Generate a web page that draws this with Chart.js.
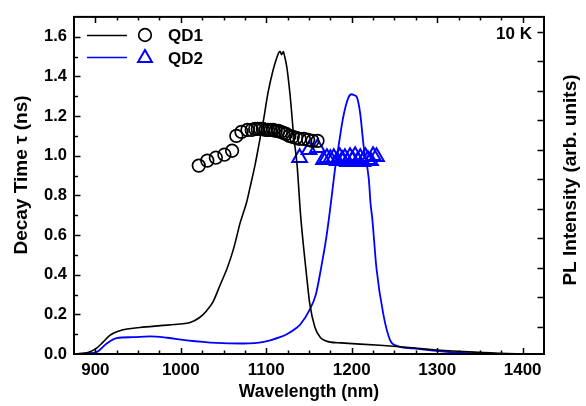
<!DOCTYPE html>
<html>
<head>
<meta charset="utf-8">
<script src="https://cdn.jsdelivr.net/npm/chart.js@4"></script>
<style>
  body { margin: 0; background: #fff; }
  #wrap { width: 586px; height: 406px; }
</style>
</head>
<body>
<div id="wrap"><canvas id="grafico"></canvas></div>
<script>
// decay time (markers)
const qd1Wave = [1021, 1031, 1041, 1051, 1060, 1065, 1071, 1078, 1083, 1087, 1090, 1093, 1096, 1099, 1102, 1105, 1108, 1111, 1114, 1117, 1120, 1123, 1127, 1131, 1135, 1139, 1144, 1149, 1154, 1160]
const qd1Tau  = [0.95, 0.975, 0.99, 1.005, 1.025, 1.10, 1.12, 1.13, 1.13, 1.135, 1.135, 1.135, 1.135, 1.13, 1.13, 1.13, 1.13, 1.125, 1.125, 1.12, 1.115, 1.11, 1.10, 1.095, 1.09, 1.085, 1.085, 1.08, 1.075, 1.075]
const qd2Wave = [1139, 1150, 1160, 1167, 1171, 1175, 1179, 1183, 1186, 1189, 1192, 1195, 1198, 1201, 1204, 1207, 1210, 1213, 1216, 1219, 1222, 1225, 1229]
const qd2Tau  = [0.99, 1.03, 1.04, 0.98, 0.99, 0.985, 0.99, 0.975, 0.995, 0.98, 0.99, 0.97, 0.995, 0.98, 1.0, 0.975, 0.99, 0.97, 0.995, 0.98, 0.975, 1.0, 0.995]

// PL spectra (lines)
const pl1Wave = [875, 885, 893, 901, 909, 917, 927, 937, 952, 976, 999, 1011, 1022, 1030, 1038, 1046, 1054, 1061, 1065, 1069, 1073, 1077, 1081, 1087, 1092, 1097, 1102, 1108, 1112, 1114, 1116, 1118, 1120, 1121, 1124, 1128, 1132, 1136, 1140, 1143.5, 1147.5, 1151, 1157, 1163, 1170, 1175, 1187, 1233, 1260, 1300, 1350, 1382, 1425]
const pl1Int  = [0, 0.003, 0.01, 0.028, 0.06, 0.094, 0.115, 0.126, 0.134, 0.143, 0.151, 0.159, 0.184, 0.217, 0.266, 0.348, 0.43, 0.52, 0.585, 0.655, 0.71, 0.765, 0.84, 0.956, 1.07, 1.186, 1.317, 1.432, 1.49, 1.514, 1.527, 1.51, 1.525, 1.51, 1.448, 1.30, 1.103, 0.956, 0.709, 0.545, 0.381, 0.25, 0.134, 0.085, 0.066, 0.06, 0.056, 0.044, 0.035, 0.02, 0.008, 0.002, 0]
const pl2Wave = [875, 890, 902, 913, 925, 944, 964, 984, 1007, 1042, 1073, 1097, 1116, 1124, 1136, 1140, 1151, 1158, 1164, 1170, 1175, 1181, 1184.5, 1190, 1196, 1200, 1203, 1206, 1210, 1214, 1220, 1222, 1224, 1229, 1237, 1245, 1253, 1272, 1311, 1350, 1425]
const pl2Int  = [0, 0.003, 0.011, 0.052, 0.08, 0.085, 0.089, 0.082, 0.069, 0.056, 0.053, 0.061, 0.085, 0.10, 0.134, 0.15, 0.225, 0.30, 0.43, 0.58, 0.74, 0.95, 1.046, 1.194, 1.292, 1.31, 1.305, 1.295, 1.21, 1.046, 0.882, 0.76, 0.685, 0.43, 0.2, 0.069, 0.041, 0.028, 0.011, 0.003, 0]

const xTicksMajor = [900, 1000, 1100, 1200, 1300, 1400]

const fuente = '"Liberation Sans", Arial, sans-serif'
const azul = 'rgb(0, 0, 255)'

function pares(xs, ys) {
  return xs.map((x, i) => ({x: x, y: ys[i]}))
}

function tituloVertical(ctx, texto, x, y) {
  ctx.save()
  ctx.translate(x, y)
  ctx.rotate(-Math.PI / 2)
  ctx.fillText(texto, 0, 0)
  ctx.restore()
}

// frame, inward ticks, vertical titles, legend, label
const extras = {
  id: 'extras',
  afterDraw(chart) {
    const ctx = chart.ctx
    const a = chart.chartArea
    const sx = chart.scales.x
    const sy = chart.scales.y
    const sy2 = chart.scales.y2
    ctx.save()
    ctx.strokeStyle = '#000'
    ctx.lineWidth = 1.5
    ctx.beginPath()
    sx.ticks.forEach(t => {
      if (t.value <= sx.min || t.value >= sx.max) return
      const px = Math.round(sx.getPixelForValue(t.value)) + 0.5
      const len = xTicksMajor.includes(t.value) ? 6 : 3.5
      ctx.moveTo(px, a.bottom); ctx.lineTo(px, a.bottom - len)
      ctx.moveTo(px, a.top); ctx.lineTo(px, a.top + len)
    })
    sy.ticks.forEach(t => {
      if (t.value <= sy.min || t.value >= sy.max - 1e-6) return
      const py = Math.round(sy.getPixelForValue(t.value)) + 0.5
      const len = Math.round(t.value * 10) % 2 === 0 ? 6.5 : 4
      ctx.moveTo(a.left, py); ctx.lineTo(a.left + len, py)
    })
    sy2.ticks.forEach(t => {
      if (!Number.isInteger(t.value)) return
      const py = Math.round(sy2.getPixelForValue(t.value)) + 0.5
      ctx.moveTo(a.right, py); ctx.lineTo(a.right - 6.5, py)
    })
    ctx.stroke()

    ctx.lineWidth = 2
    ctx.strokeRect(a.left, a.top, a.right - a.left, a.bottom - a.top)

    // axis titles
    ctx.fillStyle = '#000'
    ctx.font = 'bold 19px ' + fuente
    ctx.textAlign = 'center'
    ctx.textBaseline = 'middle'
    tituloVertical(ctx, 'Decay Time τ (ns)', 22, 175)
    tituloVertical(ctx, 'PL Intensity (arb. units)', 571, 180)

    // 10 K
    ctx.font = 'bold 17px ' + fuente
    ctx.textAlign = 'right'
    ctx.fillText('10 K', 532, 34)

    // legend
    ctx.textAlign = 'left'
    ctx.lineWidth = 1.5
    ctx.strokeStyle = '#000'
    ctx.beginPath(); ctx.moveTo(87, 35.5); ctx.lineTo(127, 35.5); ctx.stroke()
    ctx.lineWidth = 1.7
    ctx.beginPath(); ctx.arc(145, 35, 6.3, 0, Math.PI * 2); ctx.stroke()
    ctx.fillText('QD1', 168, 36)
    ctx.strokeStyle = azul
    ctx.lineWidth = 1.5
    ctx.beginPath(); ctx.moveTo(87, 57.5); ctx.lineTo(127, 57.5); ctx.stroke()
    ctx.lineWidth = 2
    const r = 8
    ctx.beginPath()
    ctx.moveTo(145, 58 - r)
    ctx.lineTo(145 + r * 0.866, 58 + r / 2)
    ctx.lineTo(145 - r * 0.866, 58 + r / 2)
    ctx.closePath()
    ctx.stroke()
    ctx.fillText('QD2', 168, 59)
    ctx.restore()
  }
}

Chart.defaults.color = '#000'
Chart.defaults.font.family = fuente

const canvas = document.getElementById('grafico')
const grafico = new Chart(canvas, {
  type: 'scatter',
  data: {
    datasets: [
      {
        label: 'PL QD1',
        data: pares(pl1Wave, pl1Int),
        showLine: true,
        borderColor: '#000',
        borderWidth: 1.6,
        pointRadius: 0,
        cubicInterpolationMode: 'monotone'
      },
      {
        label: 'PL QD2',
        data: pares(pl2Wave, pl2Int),
        showLine: true,
        borderColor: azul,
        borderWidth: 1.8,
        pointRadius: 0,
        cubicInterpolationMode: 'monotone'
      },
      {
        label: 'QD1',
        data: pares(qd1Wave, qd1Tau),
        pointStyle: 'circle',
        pointRadius: 6.3,
        borderColor: '#000',
        backgroundColor: 'rgba(0,0,0,0)',
        borderWidth: 1.7
      },
      {
        label: 'QD2',
        data: pares(qd2Wave, qd2Tau),
        pointStyle: 'triangle',
        pointRadius: 8.5,
        borderColor: azul,
        backgroundColor: 'rgba(0,0,0,0)',
        borderWidth: 2
      }
    ]
  },
  options: {
    responsive: true,
    maintainAspectRatio: false,
    animation: false,
    layout: { padding: { top: 9 } },
    plugins: {
      legend: { display: false },
      tooltip: { enabled: false }
    },
    scales: {
      x: {
        type: 'linear',
        min: 875,
        max: 1425,
        afterFit: s => { s.height = 52 },
        grid: { display: false, drawTicks: false },
        border: { display: false },
        ticks: {
          stepSize: 25,
          includeBounds: false,
          autoSkip: false,
          maxRotation: 0,
          padding: 6,
          font: { size: 17, weight: 'bold' },
          callback: v => xTicksMajor.includes(v) ? String(v) : ''
        },
        title: {
          display: true,
          text: 'Wavelength (nm)',
          font: { size: 17.5, weight: 'bold' },
          padding: { top: 0, bottom: 3 }
        }
      },
      y: {
        min: 0,
        max: 1.7,
        afterFit: s => { s.width = 74 },
        grid: { display: false, drawTicks: false },
        border: { display: false },
        ticks: {
          stepSize: 0.1,
          includeBounds: false,
          autoSkip: false,
          padding: 7,
          font: { size: 16.5, weight: 'bold' },
          callback: v => Math.round(v * 10) % 2 === 0 ? v.toFixed(1) : ''
        }
      },
      y2: {
        display: true,
        position: 'right',
        min: -0.917,
        max: 10.5,
        afterFit: s => { s.width = 42 },
        grid: { display: false, drawTicks: false },
        border: { display: false },
        ticks: { stepSize: 1, includeBounds: false, display: false }
      }
    }
  },
  plugins: [extras]
})
</script>
</body>
</html>
